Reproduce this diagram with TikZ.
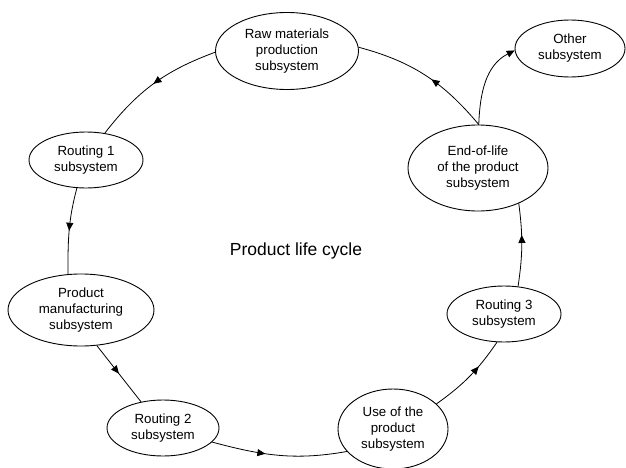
\documentclass[tikz,border=0pt]{standalone}
\usepackage{fontspec}
\setmainfont{Liberation Sans}
\usetikzlibrary{shapes.geometric,arrows.meta,decorations.markings}
\begin{document}
\begin{tikzpicture}[x=1pt,y=1pt,
  sub/.style={ellipse,draw,line width=0.9pt,inner sep=0pt,align=center,font=\fontsize{13.3}{16}\selectfont},
  link/.style={line width=0.8pt},
  midarrow/.style={postaction={decorate},decoration={markings,mark=at position #1 with {\arrow{Triangle[length=8pt,width=7pt]}}}},
  endtip/.style={-{Triangle[length=8pt,width=7pt]}}
]
\useasboundingbox (0,0) rectangle (626,467);
\node[sub,minimum width=143pt,minimum height=77pt] (raw) at (287,416) {Raw materials\\production\\subsystem};
\node[sub,minimum width=110pt,minimum height=57pt] (other) at (570,418.5) {Other\\subsystem};
\node[sub,minimum width=114pt,minimum height=56pt] (r1) at (86,307) {Routing 1\\subsystem};
\node[sub,minimum width=140pt,minimum height=86pt] (eol) at (478,299) {End-of-life\\of the product\\subsystem};
\node[sub,minimum width=146pt,minimum height=72pt] (pm) at (81,157) {Product\\manufacturing\\subsystem};
\node[sub,minimum width=114pt,minimum height=56pt] (r3) at (504,153) {Routing 3\\subsystem};
\node[sub,minimum width=112pt,minimum height=56pt] (r2) at (163,39) {Routing 2\\subsystem};
\node[sub,minimum width=110pt,minimum height=80pt] (use) at (393,38) {Use of the\\product\\subsystem};
\node[font=\fontsize{17.5}{20}\selectfont] (title) at (296,216) {Product life cycle};

\draw[link,midarrow=0.5] (raw.181) to[bend right=16] (r1.55);
\draw[link,midarrow=0.5] (r1.252) to[out=-105,in=90] (pm.110);
\draw[link,midarrow=0.5] (pm.294) -- (r2.130);
\draw[link,midarrow=0.4] (r2.-16) to[out=-15,in=190] (use.206);
\draw[link,midarrow=0.65] (use.30) to[bend right=10] (r3.256);
\draw[link,midarrow=0.62] (r3.63) to[bend right=8] (eol.-41);
\draw[link,midarrow=0.45] (eol.89) to[out=130,in=-15] (raw.3);
\draw[link,endtip] (eol.89) to[out=88,in=207] (other.182);
\end{tikzpicture}
\end{document}
